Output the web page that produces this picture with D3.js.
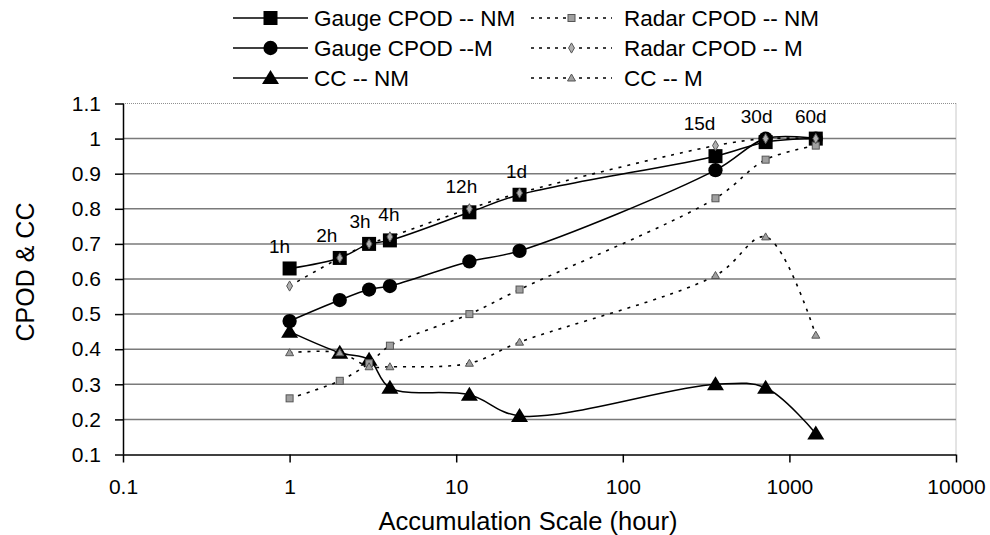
<!DOCTYPE html>
<html>
<head>
<meta charset="utf-8">
<script src="https://cdn.jsdelivr.net/npm/d3@7"></script>
<style>
  html, body { margin: 0; padding: 0; background: #fff; }
  svg { display: block; font-family: "Liberation Sans", Arial, sans-serif; }
</style>
</head>
<body>
<svg id="chart" width="990" height="535"></svg>
<script>
// Accumulation scales (hours) and their short names
const hours = [1, 2, 3, 4, 12, 24, 360, 720, 1440];
const scaleLabels = ["1h", "2h", "3h", "4h", "12h", "1d", "15d", "30d", "60d"];

// Series values
const gaugeNM = [0.63, 0.66, 0.70, 0.71, 0.79, 0.84, 0.95, 0.99, 1.00];
const gaugeM  = [0.48, 0.54, 0.57, 0.58, 0.65, 0.68, 0.91, 1.00, 1.00];
const ccNM    = [0.45, 0.39, 0.37, 0.29, 0.27, 0.21, 0.30, 0.29, 0.16];
const radarNM = [0.26, 0.31, 0.36, 0.41, 0.50, 0.57, 0.83, 0.94, 0.98];
const radarM  = [0.58, 0.66, 0.70, 0.72, 0.80, 0.845, 0.98, 1.00, 1.00];
const ccM     = [0.39, 0.39, 0.35, 0.35, 0.36, 0.42, 0.61, 0.72, 0.44];

// Axis ticks
const xTicks = [0.1, 1, 10, 100, 1000, 10000];
const yTicks = [0.1, 0.2, 0.3, 0.4, 0.5, 0.6, 0.7, 0.8, 0.9, 1.0, 1.1];

const seriesNames = ["Gauge CPOD -- NM", "Gauge CPOD --M", "CC -- NM",
                     "Radar CPOD -- NM", "Radar CPOD -- M", "CC -- M"];

const svg = d3.select("#chart");
const plotLeft = 123, plotRight = 956, plotTop = 103.5, plotBottom = 454.5;

// Horizontal nudges (px) for the scale labels so neighbouring ones don't collide
const labelNudge = [-10, -13, -9, -1, -8, -3, -16, -9, -5];

const x = d3.scaleLog().domain([0.1, 10000]).range([plotLeft, plotRight]);
const y = d3.scaleLinear().domain([0.1, 1.1]).range([plotBottom, plotTop]);

// Marker shapes
const triPath = "M0,-8L8.5,6L-8.5,6Z";
const smallTri = "M0,-4L4,3L-4,3Z";
const markers = {
  square: g => g.append("rect").attr("x", -7).attr("y", -7).attr("width", 14).attr("height", 14).attr("fill", "#000"),
  circle: g => g.append("path").attr("d", d3.symbol(d3.symbolCircle, 160)()).attr("fill", "#000"),
  triangle: g => g.append("path").attr("d", triPath).attr("fill", "#000"),
  smallSquare: g => g.append("rect").attr("x", -3.5).attr("y", -3.5).attr("width", 7).attr("height", 7)
                     .attr("fill", "#a0a0a0").attr("stroke", "#555").attr("stroke-width", 1),
  smallDiamond: g => g.append("path").attr("d", d3.symbol(d3.symbolDiamond, 30)())
                     .attr("fill", "#b0b0b0").attr("stroke", "#555").attr("stroke-width", 1),
  smallTriangle: g => g.append("path").attr("d", smallTri)
                     .attr("fill", "#a0a0a0").attr("stroke", "#555").attr("stroke-width", 1)
};

const series = [
  { name: seriesNames[0], values: gaugeNM, dashed: false, marker: "square" },
  { name: seriesNames[1], values: gaugeM,  dashed: false, marker: "circle" },
  { name: seriesNames[2], values: ccNM,    dashed: false, marker: "triangle" },
  { name: seriesNames[3], values: radarNM, dashed: true,  marker: "smallSquare" },
  { name: seriesNames[4], values: radarM,  dashed: true,  marker: "smallDiamond" },
  { name: seriesNames[5], values: ccM,     dashed: true,  marker: "smallTriangle" }
];

// Horizontal gridlines
svg.append("g").selectAll("line")
  .data(yTicks.filter(v => v > 0.15 && v < 1.05))
  .join("line")
  .attr("x1", plotLeft).attr("x2", plotRight)
  .attr("y1", d => y(d)).attr("y2", d => y(d))
  .attr("stroke", "#7a7a7a").attr("stroke-width", 1.5);

// Dotted top and right borders of the plot area
svg.append("line").attr("x1", plotLeft).attr("x2", plotRight).attr("y1", plotTop).attr("y2", plotTop)
  .attr("stroke", "#909090").attr("stroke-width", 1).attr("stroke-dasharray", "1,1");
svg.append("line").attr("x1", plotRight).attr("x2", plotRight).attr("y1", plotTop).attr("y2", plotBottom)
  .attr("stroke", "#909090").attr("stroke-width", 1).attr("stroke-dasharray", "1,1");

// Axes
const yAxis = d3.axisLeft(y).tickValues(yTicks).tickSize(8).tickPadding(14)
  .tickFormat(d => String(+d.toFixed(1)));
const xAxis = d3.axisBottom(x).tickValues(xTicks).tickSize(8).tickPadding(17)
  .tickFormat(d => String(d));

const gy = svg.append("g").attr("transform", `translate(${plotLeft},0)`).call(yAxis);
const gx = svg.append("g").attr("transform", `translate(0,${plotBottom})`).call(xAxis);
[gx, gy].forEach(g => {
  g.select(".domain").attr("stroke", "#000").attr("stroke-width", 1.5);
  g.selectAll(".tick line").attr("stroke", "#000").attr("stroke-width", 1.5);
  g.selectAll(".tick text").attr("fill", "#000").style("font-size", "21px")
    .style("font-family", "'Liberation Sans', Arial, sans-serif");
});
gx.select(".domain").attr("d", `M${plotLeft},0.5H${plotRight}`);
gy.select(".domain").attr("d", `M0.5,${plotTop}V${plotBottom}`);

// Axis titles
svg.append("text").attr("x", 528).attr("y", 521)
  .attr("text-anchor", "middle").attr("dominant-baseline", "central")
  .style("font-size", "25.5px").text("Accumulation Scale (hour)");
svg.append("text").attr("transform", "translate(25,272) rotate(-90)")
  .attr("text-anchor", "middle").attr("dominant-baseline", "central")
  .style("font-size", "25px").text("CPOD & CC");

// Series lines and markers
const line = d3.line()
  .x((d, i) => x(hours[i]))
  .y(d => y(d))
  .curve(d3.curveCatmullRom.alpha(0.5));

const solids = series.filter(s => !s.dashed);
const dashes = series.filter(s => s.dashed);

function drawSeries(s) {
  svg.append("path").datum(s.values)
    .attr("d", line)
    .attr("fill", "none")
    .attr("stroke", "#000")
    .attr("stroke-width", s.dashed ? 1.6 : 1.5)
    .attr("stroke-dasharray", s.dashed ? "3,6" : null);
}
function drawMarkers(s) {
  s.values.forEach((v, i) => {
    const g = svg.append("g").attr("transform", `translate(${x(hours[i])},${y(v)})`);
    markers[s.marker](g);
  });
}
solids.forEach(drawSeries);
solids.forEach(drawMarkers);
dashes.forEach(drawSeries);
dashes.forEach(drawMarkers);

// Scale labels above the highest point at each accumulation scale
hours.forEach((h, i) => {
  const peak = d3.max(series, s => s.values[i]);
  svg.append("text")
    .attr("x", x(h) + labelNudge[i]).attr("y", y(peak) - 22)
    .attr("text-anchor", "middle").attr("dominant-baseline", "central")
    .style("font-size", "19px").text(scaleLabels[i]);
});

// Legend: two columns of three entries
const legendRows = [18, 48, 78];
series.forEach((s, k) => {
  const col = k < 3 ? 0 : 1;
  const row = k % 3;
  const ly = legendRows[row];
  const x0 = col === 0 ? 233 : 531;
  const x1 = col === 0 ? 308 : 612;
  const g = svg.append("g");
  g.append("line").attr("x1", x0).attr("x2", x1).attr("y1", ly).attr("y2", ly)
    .attr("stroke", "#000").attr("stroke-width", s.dashed ? 1.6 : 1.5)
    .attr("stroke-dasharray", s.dashed ? "3,5" : null);
  const mg = g.append("g").attr("transform", `translate(${(x0 + x1) / 2},${ly})`);
  markers[s.marker](mg);
  g.append("text").attr("x", col === 0 ? 314 : 624).attr("y", ly)
    .attr("dominant-baseline", "central")
    .style("font-size", "22.5px").text(s.name);
});
</script>
</body>
</html>
